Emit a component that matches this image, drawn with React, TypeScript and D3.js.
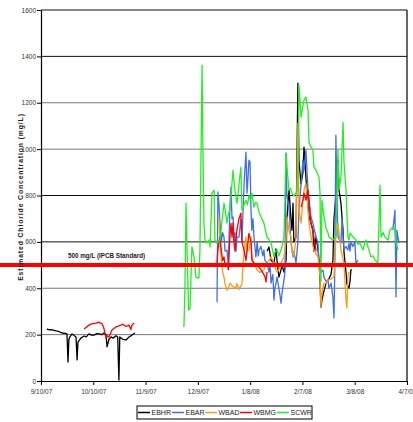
import React, { useRef, useEffect } from "react";
import * as d3 from "d3";

// days since 9/10/07, estimated chloride (mg/L); null = gap
type Pt = [number, number] | null;

const startDate = "9/10/07";
const endDate = "4/7/08";
const xTickLabels = ["9/10/07", "10/10/07", "11/9/07", "12/9/07", "1/8/08", "2/7/08", "3/8/08", "4/7/08"];
const yTicks = [0, 200, 400, 600, 800, 1000, 1200, 1400, 1600];
const darkGrid = [1600, 1400, 800, 600];
const standard = 500;

const ebhr: Pt[] = [
  [3.4, 224], [5, 220], [6, 222], [8.6, 216], [10, 214], [12, 207], [14, 205], [14.9, 203], [15.5, 82],
  [16, 180], [16.6, 190], [17.8, 203], [19, 196], [20.1, 190], [20.7, 91], [21.2, 168], [22.9, 185],
  [24.7, 194], [26, 190], [27.5, 203], [29, 198], [30.4, 198], [32, 204], [33.3, 203], [35, 200],
  [36.1, 207], [37.3, 200], [37.9, 147], [39, 180], [40.2, 190], [41.5, 185], [43, 195], [44, 190],
  [44.7, 4], [45.2, 190], [45.9, 185], [47, 180], [48.8, 177], [50.5, 190], [52.2, 198], [53.9, 207],
  null,
  [129.7, 560], [130.8, 578], [132, 520], [133.7, 510], [134.8, 570], [135.4, 520], [136.5, 448],
  [137.7, 480], [138.3, 500], [139.4, 470], [140.6, 520], [141.1, 700], [142.3, 823], [143.4, 700],
  [144, 650], [144.6, 767], [145.1, 600], [146.3, 620], [147.4, 1284], [148, 950], [149.2, 850],
  [150.3, 900], [150.9, 1009], [152, 880], [153.2, 760], [153.8, 707], [154.9, 680], [156, 651],
  [156.6, 560], [157.8, 620], [158.9, 570], [159.5, 520], [160.1, 430], [160.6, 319], [161.2, 349],
  [162.4, 390], [163.5, 420], [164.7, 435], [165.2, 440], [166.4, 460], [167.5, 520], [168.1, 700],
  [169.2, 800], [170.4, 952], [171, 823], [172.1, 767], [173.3, 650], [173.8, 560], [175, 470],
  [175.5, 420], [176.7, 400], [177.3, 430], [177.8, 478], [178.4, 480],
];

const ebar: Pt[] = [
  [101, 340], [101.5, 815], [102.1, 760], [102.7, 681], [103.5, 600], [104.2, 640], [105, 621],
  [105.6, 560], [106.7, 565], [107.5, 500], [108.4, 750], [109, 836], [109.6, 700], [110.2, 707],
  [110.7, 600], [111.3, 640], [111.9, 560], [112.4, 620], [113.6, 621], [114.7, 700], [115.3, 600],
  [116, 750], [116.6, 860], [117.6, 987], [118.2, 810], [118.8, 880], [119.3, 952], [119.9, 944],
  [120.5, 737], [121, 650], [121.6, 700], [122.2, 621], [123.3, 535], [124, 600], [124.6, 540],
  [125.1, 565], [126.2, 580], [127.3, 540], [127.9, 565], [128.5, 520], [129.7, 509], [130.8, 470],
  [131.4, 500], [132, 422], [133, 460], [133.7, 349], [134.2, 400], [134.8, 420], [135.4, 448],
  [136.5, 400], [137.1, 370], [137.7, 336], [138.3, 380], [139.4, 435], [140, 470], [140.6, 983],
  [141.1, 800], [142.3, 750], [143.4, 600], [144.6, 535], [145.1, 560], [146.3, 509], [147.4, 600],
  [148, 737], [149.2, 850], [150.3, 952], [150.9, 909], [152, 996], [153.2, 823], [154.9, 707],
  [156, 681], [157.2, 640], [158.9, 595], [159.5, 509], [160.6, 470], [161.8, 478], [162.4, 448],
  [163.5, 430], [164.7, 435], [165.2, 400], [166.4, 422], [167.5, 360], [168.1, 272], [168.6, 500],
  [169.2, 1060], [169.8, 800], [170.4, 621], [172.1, 595], [172.7, 700], [173.8, 565], [175, 580],
  [176.1, 565], [176.7, 595], [177.3, 560], [177.8, 600], [179, 580], [180.1, 600], [180.7, 509],
  [181.9, 520],
  null,
  [201.9, 651], [203.1, 737], [203.7, 362], [204.2, 651], [204.8, 620], [205.4, 595],
];

const wbad: Pt[] = [
  [102.1, 707], [102.7, 600], [103.5, 520], [104.2, 470], [105, 448], [105.6, 420], [106.7, 392],
  [107.5, 400], [108.4, 422], [109.6, 410], [110.7, 405], [111.9, 400], [112.4, 420], [113.6, 395],
  [114.7, 410], [115.3, 420], [116, 520], [117.6, 621], [118.2, 560], [119.3, 565], [120.5, 621],
  [121, 535], [122.2, 509], [123.9, 480], [125.1, 470], [126.2, 470], [127.9, 480], [129.7, 509],
  [130.8, 520], [132, 535], [133.7, 509], [134.8, 480], [135.4, 470], [136.5, 480], [137.7, 509],
  [139.4, 535], [140.6, 600], [141.1, 707], [142.3, 650], [143.4, 620], [144, 565], [145.1, 535],
  [146.3, 621], [147.4, 1112], [148, 737], [149.2, 681], [150.3, 780], [150.9, 823], [152, 853],
  [153.2, 737], [153.8, 681], [154.9, 621], [156.6, 565], [158.9, 535], [160.1, 448], [160.6, 319],
  [161.2, 380], [162.4, 422], [163.5, 420], [164.7, 435], [166.4, 440], [168.1, 450], [169.2, 621],
  [170.4, 681], [172.1, 565], [173.8, 509], [175, 349], [175.5, 315], [176.1, 448], [176.7, 470],
];

const wbmg: Pt[] = [
  [24.7, 224], [26, 232], [27.5, 241], [29, 246], [31.6, 250], [33.3, 254], [34, 250], [35, 247],
  [36, 230], [37.3, 185], [38, 195], [39, 190], [40.7, 220], [43, 233], [44, 236], [45.9, 241],
  [47, 245], [48.8, 235], [50.5, 241], [51.6, 222], [52.2, 241], [53.4, 250],
  null,
  [101, 509], [101.5, 565], [102.1, 600], [102.7, 621], [103.5, 560], [104.2, 520], [105, 535],
  [105.6, 500], [106.7, 509], [107.5, 480], [108.4, 621], [109, 680], [109.6, 620], [110.2, 681],
  [110.7, 600], [111.3, 560], [112.4, 651], [113.6, 700], [114.7, 724], [115.3, 600], [116.6, 560],
  [117.6, 520], [118.2, 560], [119.3, 637], [120.5, 600], [121, 520], [122.2, 509], [123.3, 500],
  [125.1, 490], [126.2, 480], [127.3, 466], [128.5, 450], [129.1, 427], [129.7, 470],
  null,
  [149.2, 750], [150.3, 780], [150.9, 810], [152, 780], [153.2, 823], [153.8, 767], [154.9, 681],
  [156, 651], [156.6, 621], [157.8, 560],
];

const scwr: Pt[] = [
  [82, 233], [82.6, 400], [83.2, 767], [84, 500], [84.7, 306], [85.5, 313], [86.6, 578], [87.8, 535],
  [88.9, 448], [90.6, 444], [91.2, 565], [92.4, 1362], [92.9, 1009], [93.5, 681], [94.1, 608],
  [95.2, 595], [96.4, 608], [97, 578], [98.1, 810], [99.3, 823], [99.8, 608], [101, 595], [102.7, 608],
  [104, 700], [105, 767], [105.6, 740], [106.7, 681], [107.5, 720], [108.4, 737], [109, 800],
  [110.2, 909], [111.3, 823], [112.4, 767], [113, 800], [113.6, 850], [114.7, 922], [115.3, 737],
  [116.5, 760], [117.6, 780], [118.5, 760], [119.3, 800], [120.2, 780], [121, 810], [122.2, 750],
  [123.1, 770], [123.9, 767], [125, 730], [126.2, 707], [127.9, 681], [128.8, 650], [129.7, 621],
  [130.8, 610], [132, 595], [133.7, 535], [134.5, 560], [135.4, 565], [136.5, 540], [137.7, 565],
  [138.6, 590], [139.4, 620], [140.6, 983], [141.4, 900], [142.3, 823], [143.2, 830], [144, 810],
  [145.1, 797], [146.3, 810], [147.4, 823], [148, 1276], [149.2, 1138], [150.1, 1180], [150.9, 1211],
  [152, 1224], [153.2, 1168], [153.8, 1026], [154.9, 1010], [156, 996], [156.6, 922], [157.8, 909],
  [159.5, 879], [160.1, 810], [160.6, 430], [161.2, 780], [162.4, 707], [163.5, 660], [164.7, 638],
  [165.2, 621], [166.4, 615], [167.5, 608], [169.2, 621], [170.4, 996], [171, 823], [172.1, 879],
  [173.3, 1116], [173.8, 950], [175, 823], [176.1, 621], [176.7, 608], [177.3, 638], [179, 621],
  [180.7, 608], [181.9, 590], [183, 595], [184.7, 565], [185.6, 590], [186.5, 608], [187.6, 578],
  [188.4, 560], [189.3, 535], [190.5, 540], [191.6, 522], [193.3, 509], [194.5, 845], [195.1, 621],
  [196.3, 640], [197.4, 621], [199.1, 608], [200.2, 651], [201.9, 664], [203.1, 651], [203.7, 595],
  [204.8, 565],
];

const seriesNames = ["EBHR", "EBAR", "WBAD", "WBMG", "SCWR"];
const seriesColors = ["#000000", "#3f6ff0", "#ff9a14", "#ff0000", "#22ee22"];
const seriesData = [ebhr, ebar, wbad, wbmg, scwr];

const W = 413;
const H = 422;

export default function App() {
  const svgRef = useRef<SVGSVGElement>(null);

  useEffect(() => {
    const svg = d3.select(svgRef.current);
    svg.selectAll("*").remove();

    const parse = d3.utcParse("%m/%d/%y");
    const t0 = parse(startDate)!;
    const t1 = parse(endDate)!;
    const dayToDate = (d: number) => new Date(t0.getTime() + d * 864e5);

    const x = d3.scaleUtc().domain([t0, t1]).range([41, 407]);
    const y = d3.scaleLinear().domain([0, 1600]).range([381, 10]);

    const font = "'Liberation Sans', Arial, sans-serif";

    // horizontal gridlines
    svg.append("g")
      .selectAll("line")
      .data(yTicks.filter(v => v > 0))
      .enter()
      .append("line")
      .attr("x1", x(t0))
      .attr("x2", x(t1))
      .attr("y1", d => y(d))
      .attr("y2", d => y(d))
      .attr("stroke", d => (darkGrid.includes(d) ? "#111" : "#777"))
      .attr("stroke-width", 1);

    // right border
    svg.append("line")
      .attr("x1", x(t1)).attr("x2", x(t1))
      .attr("y1", y(1600)).attr("y2", y(0))
      .attr("stroke", "#000").attr("stroke-width", 1.2);

    // y axis
    const yAxis = svg.append("g")
      .attr("transform", `translate(${x(t0)},0)`)
      .call(
        d3.axisLeft(y)
          .tickValues(yTicks)
          .tickFormat(d3.format("d"))
          .tickSize(4)
          .tickSizeOuter(0)
          .tickPadding(1)
      );
    yAxis.select(".domain").attr("stroke", "#000").attr("stroke-width", 1.2);
    yAxis.selectAll("text").attr("font-family", font).attr("font-size", 6.5).attr("fill", "#333");

    // x axis
    const xAxis = svg.append("g")
      .attr("transform", `translate(0,${y(0)})`)
      .call(
        d3.axisBottom(x)
          .tickValues(xTickLabels.map(s => parse(s)!))
          .tickFormat((d, i) => xTickLabels[i])
          .tickSize(4)
          .tickSizeOuter(0)
          .tickPadding(4)
      );
    xAxis.select(".domain").attr("stroke", "#000").attr("stroke-width", 1.2);
    xAxis.selectAll("text").attr("font-family", font).attr("font-size", 6.5).attr("fill", "#333");

    // series lines
    const line = d3.line<Pt>()
      .defined(d => d !== null)
      .x(d => x(dayToDate((d as [number, number])[0])))
      .y(d => y((d as [number, number])[1]));

    seriesData.forEach((data, i) => {
      svg.append("path")
        .datum(data)
        .attr("d", line)
        .attr("fill", "none")
        .attr("stroke", seriesColors[i])
        .attr("stroke-width", 1.3)
        .attr("stroke-linejoin", "round");
    });

    // standard line across the full width
    svg.append("line")
      .attr("x1", 0).attr("x2", W)
      .attr("y1", y(standard)).attr("y2", y(standard))
      .attr("stroke", "#ff0000").attr("stroke-width", 4);

    svg.append("text")
      .attr("x", 68).attr("y", y(standard) - 7)
      .attr("font-family", font).attr("font-size", 6.3).attr("font-weight", "bold")
      .attr("fill", "#222")
      .text("500 mg/L (IPCB Standard)");

    // y axis title
    svg.append("text")
      .attr("transform", `translate(23,${197}) rotate(-90)`)
      .attr("text-anchor", "middle")
      .attr("font-family", font).attr("font-size", 6.8).attr("font-weight", "bold")
      .attr("letter-spacing", 0.9)
      .attr("fill", "#222")
      .text("Estimated Chloride Concentration (mg/L)");

    // legend
    const lg = svg.append("g").attr("transform", "translate(137,406)");
    lg.append("rect")
      .attr("width", 175).attr("height", 13)
      .attr("fill", "#fff").attr("stroke", "#000").attr("stroke-width", 1);
    const offsets = [1, 35, 68, 103, 140];
    seriesNames.forEach((name, i) => {
      const g = lg.append("g").attr("transform", `translate(${offsets[i]},6.5)`);
      g.append("line").attr("x1", 0).attr("x2", 12).attr("y1", 0).attr("y2", 0)
        .attr("stroke", seriesColors[i]).attr("stroke-width", 1.5);
      g.append("text").attr("x", 13.5).attr("y", 2.5)
        .attr("font-family", font).attr("font-size", 7).attr("fill", "#222")
        .text(name);
    });
  }, []);

  return (
    <svg
      ref={svgRef}
      width={W}
      height={H}
      style={{ position: "absolute", left: 0, top: 0, background: "#fff" }}
    />
  );
}
